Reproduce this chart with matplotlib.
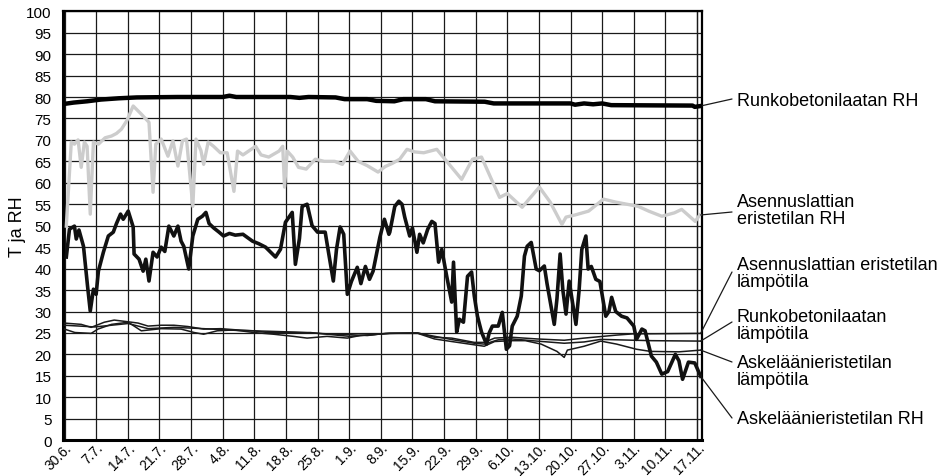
import numpy as np
import matplotlib
matplotlib.use("Agg")
import matplotlib.pyplot as plt
import matplotlib.transforms as mtransforms

plt.rcParams['font.family'] = ['Liberation Sans', 'DejaVu Sans']

# päivät alkaen 30.6.
tick_days = list(range(0, 141, 7))
tick_labels = ['30.6.', '7.7.', '14.7.', '21.7.', '28.7.', '4.8.', '11.8.', '18.8.',
               '25.8.', '1.9.', '8.9.', '15.9.', '22.9.', '29.9.', '6.10.', '13.10.',
               '20.10.', '27.10.', '3.11.', '10.11.', '17.11.']

# Runkobetonilaatan RH
runko_rh_d = [0, 2, 5, 8, 12, 16, 25, 35, 36.5, 38, 50, 52, 54, 60, 62, 67, 69, 73, 75, 80,
              82, 93, 95, 112, 113, 115, 117, 119, 121, 139, 139.5, 140.8]
runko_rh = [78.4, 78.7, 79.0, 79.4, 79.7, 79.9, 80.0, 80.0, 80.3, 80.0, 80.0, 79.8, 80.0, 79.9,
            79.5, 79.5, 79.1, 79.0, 79.5, 79.5, 79.0, 78.9, 78.5, 78.5, 78.2, 78.5, 78.3, 78.5,
            78.1, 78.0, 77.7, 77.9]

# Asennuslattian eristetilan RH
asen_rh_d = [0.4, 1.5, 2.2, 3.0, 3.7, 4.4, 5.0, 5.7, 6.4, 7.5, 9.0, 10.4, 11.5, 12.6, 13.8,
             15.2, 17.0, 18.7, 19.6, 20.2, 21.4, 22.9, 24.0, 25.1, 26.1, 27.0, 28.4, 29.1,
             30.2, 30.8, 31.8, 33.0, 34.5, 36.0, 37.5, 38.3, 39.5, 42.3, 43.5, 45.2, 47.5,
             48.3, 48.7, 49.3, 50.5, 51.8, 53.5, 55.5, 57.5, 59.8, 61.5, 63.2, 65.0, 67.0,
             69.4, 71.0, 72.5, 74.2, 75.8, 77.5, 79.5, 82.4, 84.6, 87.9, 90.3, 92.3, 94.5,
             96.3, 98.0, 101.3, 105.1, 107.5, 110.1, 111.0, 113.0, 116.0, 119.3, 122.0,
             124.5, 127.0, 129.3, 132.2, 135.0, 136.6, 138.0, 139.6, 140.6]
asen_rh = [49.9, 69.5, 69.0, 70.0, 63.6, 69.5, 68.5, 52.7, 69.5, 69.0, 70.5, 70.9, 71.5, 72.5,
           74.5, 77.9, 76.0, 74.1, 57.8, 69.0, 70.2, 66.2, 69.8, 63.9, 69.8, 70.2, 54.5, 70.2,
           67.5, 64.3, 69.5, 68.5, 67.0, 67.0, 58.0, 67.4, 66.5, 68.5, 66.5, 66.0, 67.4, 68.5,
           59.0, 67.4, 66.0, 63.6, 63.2, 65.5, 65.0, 65.0, 64.3, 67.4, 65.0, 64.0, 62.5, 63.8,
           64.5, 65.5, 67.8, 67.2, 67.0, 67.8, 65.0, 60.8, 65.5, 66.0, 60.8, 56.6, 57.5, 54.3,
           59.0, 55.5, 50.3, 52.0, 52.5, 53.4, 56.2, 55.5, 55.0, 54.5, 53.4, 52.2, 53.0, 53.8,
           52.5, 51.0, 52.5]

# Askeläänieristetilan RH
askel_rh_d = [0.4, 1.1, 2.2, 2.6, 3.2, 4.2, 5.1, 5.7, 6.4, 7.0, 7.5, 8.6, 9.7, 10.8, 11.5,
              12.4, 13.0, 14.1, 15.2, 15.4, 16.5, 17.4, 18.0, 18.7, 19.6, 20.5, 21.4, 22.2,
              23.1, 24.2, 25.1, 25.8, 26.4, 27.5, 28.4, 29.5, 30.5, 31.3, 32.0, 33.0, 34.2,
              35.2, 36.5, 37.8, 39.5, 41.6, 43.0, 44.5, 46.7, 47.8, 48.9, 50.4, 51.1, 52.0,
              52.6, 53.7, 54.8, 56.0, 57.7, 58.4, 59.5, 60.2, 61.0, 61.8, 62.6, 63.5, 64.8,
              65.6, 66.6, 67.5, 68.3, 69.8, 70.8, 71.8, 72.0, 73.1, 74.0, 74.7, 75.3, 76.4,
              77.0, 78.0, 78.6, 79.4, 80.4, 81.3, 82.0, 82.8, 83.5, 84.6, 85.7, 86.1, 86.8,
              87.4, 88.3, 89.2, 90.1, 90.7, 91.4, 92.3, 93.4, 94.0, 94.7, 96.0, 96.9, 97.8,
              98.5, 99.1, 100.2, 101.1, 101.8, 102.4, 103.3, 104.4, 105.1, 106.2, 106.8,
              108.4, 109.0, 109.7, 110.3, 111.0, 111.7, 112.3, 113.2, 113.9, 114.5, 115.4,
              115.9, 116.6, 117.6, 118.5, 119.8, 120.5, 121.1, 122.0, 123.3, 124.5, 126.0,
              126.6, 127.8, 128.5, 129.9, 131.0, 132.2, 133.5, 135.2, 136.0, 136.8, 138.1,
              139.5, 140.8]
askel_rh = [42.7, 49.2, 49.9, 46.9, 49.0, 45.2, 35.9, 30.1, 35.2, 34.0, 39.4, 43.8, 47.6, 48.5,
            50.5, 52.7, 51.5, 53.4, 49.7, 43.4, 42.2, 39.4, 42.2, 37.1, 43.8, 42.7, 45.0, 44.0,
            49.9, 47.6, 49.9, 46.4, 45.2, 39.9, 47.6, 51.5, 52.2, 53.1, 50.5, 49.5, 48.5, 47.6,
            48.2, 47.8, 48.0, 46.4, 45.8, 45.0, 42.7, 44.5, 50.8, 53.1, 41.0, 47.0, 54.5, 55.0,
            50.0, 48.5, 48.5, 44.0, 37.1, 44.5, 49.7, 48.0, 34.0, 37.0, 40.3, 36.5, 40.5, 37.5,
            39.4, 47.3, 51.5, 48.0, 48.5, 54.5, 55.7, 55.0, 52.0, 47.6, 49.5, 43.8, 48.0, 46.0,
            49.2, 51.0, 50.5, 41.5, 44.5, 38.2, 32.2, 41.5, 25.2, 28.2, 27.5, 38.2, 39.2, 33.6,
            28.9, 25.2, 22.4, 25.0, 26.6, 26.6, 29.8, 21.2, 22.0, 26.6, 28.9, 33.6, 42.9, 45.2,
            46.1, 39.9, 39.5, 40.6, 36.5, 27.0, 33.0, 43.4, 35.0, 29.4, 37.1, 33.0, 27.0, 35.0,
            44.5, 47.6, 39.9, 40.5, 37.5, 37.0, 28.9, 30.0, 33.3, 30.0, 28.9, 28.5, 26.6, 23.5,
            25.9, 25.5, 19.6, 18.2, 15.4, 16.0, 20.0, 18.5, 14.2, 18.2, 18.0, 14.9]

# Asennuslattian eristetilan lämpötila
asen_t_d = [0, 3.7, 5.9, 8.8, 11.0, 14.1, 16.3, 18.5, 21.4, 24.2, 27.3, 30.8, 34.6, 38.3, 41.9,
            44.9, 49.3, 54.4, 58.1, 63.2, 69.2, 72.0, 78.2, 81.9, 85.7, 90.7, 92.9, 95.2, 98.9,
            104.6, 110.6, 115.0, 122.2, 126.0, 129.7, 140.8]
asen_t = [27.3, 27.0, 26.3, 27.5, 28.0, 27.6, 27.3, 26.6, 26.8, 26.8, 26.5, 25.9, 26.0, 25.7,
          25.5, 25.1, 25.1, 25.1, 24.7, 24.2, 24.7, 24.9, 25.0, 24.0, 23.8, 22.8, 22.8, 23.8,
          24.0, 23.6, 23.3, 23.8, 24.5, 24.8, 24.8, 24.9]

# Runkobetonilaatan lämpötila
runko_t_d = [0, 6.7, 14.1, 18.5, 24.2, 30.8, 38.0, 45.0, 51.0, 58.0, 63.0, 67.0, 71.0, 78.0,
             82.0, 86.0, 90.7, 92.9, 96.0, 99.0, 104.6, 110.6, 115.0, 118.7, 126.0, 130.0, 140.8]
runko_t = [26.8, 26.4, 27.2, 26.0, 26.3, 26.0, 25.6, 25.4, 25.2, 24.8, 24.6, 24.4, 24.9, 25.0,
           24.2, 23.4, 22.6, 22.4, 23.4, 23.6, 23.1, 22.6, 22.9, 23.5, 23.3, 23.2, 23.1]

# Askeläänieristetilan lämpötila
askel_t_d = [0, 2.3, 5.9, 7.4, 10.4, 14.1, 17.0, 21.4, 25.8, 28.7, 30.8, 33.8, 37.5, 41.9,
             46.3, 50.7, 53.7, 58.1, 62.6, 65.4, 72.0, 78.2, 81.9, 85.7, 92.9, 95.2, 98.9,
             102.0, 105.5, 109.0, 110.6, 111.3, 115.0, 118.7, 122.2, 126.6, 129.7, 136.0, 140.8]
askel_t = [25.9, 25.1, 24.9, 25.9, 27.0, 27.5, 25.5, 26.0, 25.9, 25.1, 24.7, 25.5, 25.7, 25.1,
           24.7, 24.2, 23.8, 24.2, 23.8, 24.4, 24.9, 24.9, 23.6, 23.0, 21.9, 23.0, 23.2, 23.2,
           22.4, 20.7, 19.3, 21.0, 21.9, 23.1, 22.4, 21.2, 20.7, 20.6, 21.0]

fig = plt.figure(figsize=(9.53, 4.77), dpi=100)
ax = fig.add_axes([62.7 / 953, 35.8 / 477, (702 - 62.7) / 953, 429 / 477])

ax.plot(asen_t_d, asen_t, color='#1a1a1a', lw=1.1, zorder=3)
ax.plot(runko_t_d, runko_t, color='#1a1a1a', lw=1.1, zorder=3)
ax.plot(askel_t_d, askel_t, color='#1a1a1a', lw=1.1, zorder=3)
ax.plot(asen_rh_d, asen_rh, color='#cccccc', lw=2.4, zorder=3)
ax.plot(askel_rh_d, askel_rh, color='#111111', lw=2.6, zorder=4)
ax.plot(runko_rh_d, runko_rh, color='#000000', lw=3.2, zorder=4)

ax.set_xlim(-0.4, 141.1)
ax.set_ylim(0, 100)
ax.set_yticks(np.arange(0, 101, 5))
ax.set_xticks(tick_days)
ax.set_xticklabels(tick_labels, rotation=45, ha='right', va='top', fontsize=10)
ax.tick_params(axis='both', length=0)
ax.tick_params(axis='y', labelsize=11, pad=8)
ax.tick_params(axis='x', pad=0)
ax.grid(True, color='#1a1a1a', lw=0.9)
ax.set_axisbelow(True)
ax.axvline(140.0, color='#1a1a1a', lw=0.9, zorder=1)

offset = mtransforms.ScaledTranslation(10 / 100, 0, fig.dpi_scale_trans)
for lbl in ax.get_xticklabels():
    lbl.set_transform(lbl.get_transform() + offset)

ax.spines['left'].set_linewidth(2.2)
ax.spines['bottom'].set_linewidth(2.2)
ax.spines['top'].set_linewidth(1.6)
ax.spines['right'].set_linewidth(1.6)

ax.set_ylabel('T ja RH', fontsize=13, labelpad=0)

# selitteet oikealla
labels = [
    ('Runkobetonilaatan RH', 101, runko_rh[-1], 100),
    ('Asennuslattian\neristetilan RH', 211, asen_rh[-1], 213),
    ('Asennuslattian eristetilan\nlämpötila', 274, asen_t[-1], 273),
    ('Runkobetonilaatan\nlämpötila', 326, runko_t[-1], 323),
    ('Askeläänieristetilan\nlämpötila', 372, askel_t[-1], 363),
    ('Askeläänieristetilan RH', 420, askel_rh[-1], 419),
]
for text, ty, val, ly in labels:
    fig.text(737 / 953, 1 - ty / 477, text, fontsize=13, ha='left', va='center',
             linespacing=1.05)
    ax.annotate('', xy=(140.8, val), xycoords='data',
                xytext=(732, 477 - ly), textcoords='figure pixels',
                arrowprops=dict(arrowstyle='-', lw=0.9, color='#1a1a1a',
                                shrinkA=0, shrinkB=0),
                annotation_clip=False)

fig.savefig('out.png', dpi=100)
